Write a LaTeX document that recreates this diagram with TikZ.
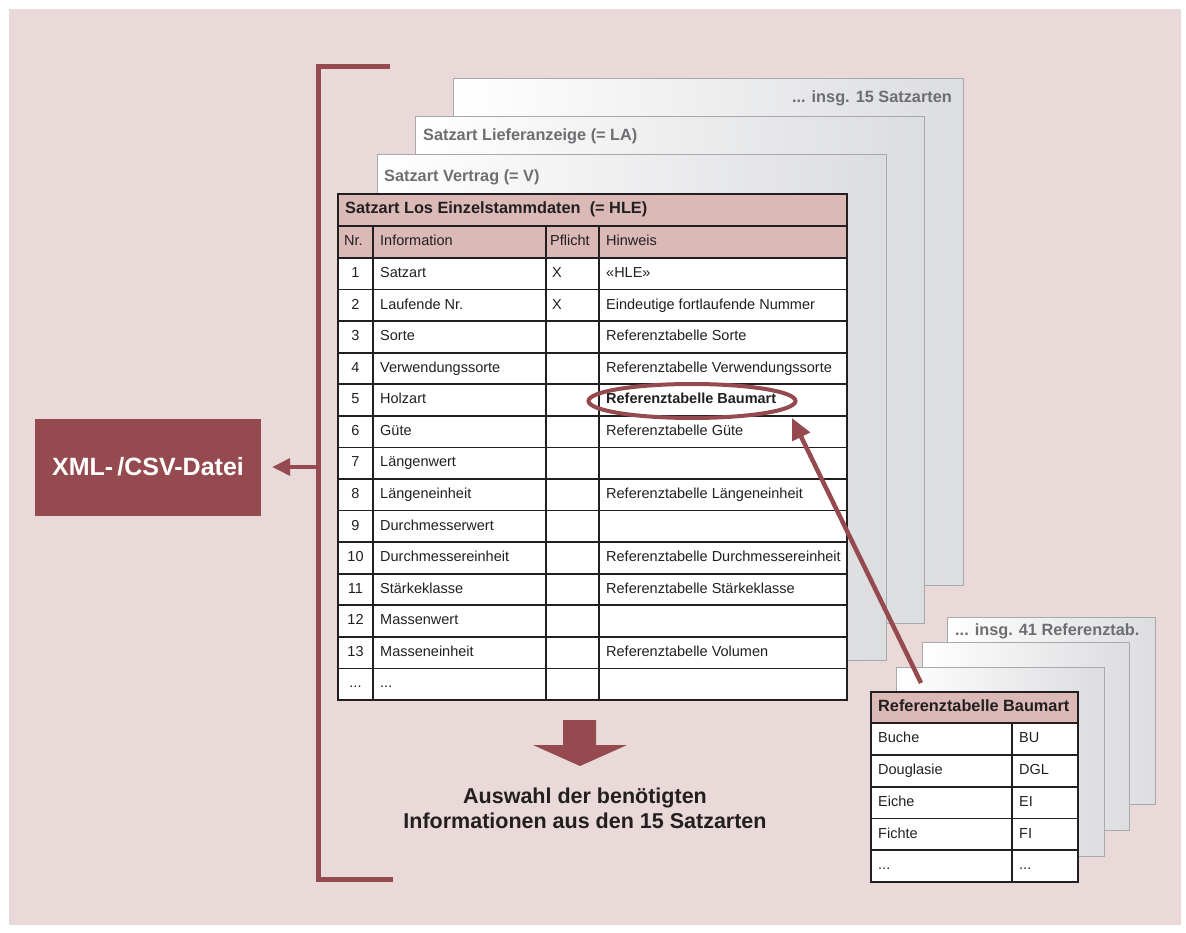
\documentclass[tikz,border=0pt]{standalone}
\usepackage{fontspec}
\setmainfont{Liberation Sans}
\usetikzlibrary{arrows.meta,shapes.geometric}
\definecolor{bgpink}{HTML}{E9D9D8}
\definecolor{dred}{HTML}{954A4F}
\definecolor{headfill}{HTML}{DAB9B6}
\definecolor{darktext}{HTML}{231F20}
\definecolor{greytext}{HTML}{6D6E71}
\definecolor{sheetline}{HTML}{A7A9AC}
\definecolor{sheetgrey}{HTML}{DCDDDF}
\newcommand\mydots{...}
\tikzset{
  sheetbox/.style={draw=sheetline, line width=1pt, left color=white, right color=sheetgrey},
  sheetlabel/.style={inner sep=0pt, text=greytext, font=\bfseries\fontsize{16.3}{19}\selectfont},
  cell/.style={inner sep=0pt, text=darktext, text height=10.5pt, text depth=3pt, font=\fontsize{14.5}{17}\selectfont},
  celltitle/.style={inner sep=0pt, text=darktext, text height=11.5pt, text depth=3.5pt, font=\bfseries\fontsize{16.3}{19}\selectfont},
  gridline/.style={draw=darktext, line width=1.8pt},
  bracket/.style={draw=dred, line width=5pt},
  redarrow/.style={draw=dred, line width=4pt, -{Triangle[length=18pt,width=17pt]}},
}
\begin{document}
\begin{tikzpicture}[x=1pt,y=-1pt]
\useasboundingbox (0,0) rectangle (1186,933);
\fill[white] (0,0) rectangle (1186,933);
\fill[bgpink] (9,9) rectangle (1181,925);

% bracket
\draw[bracket] (390,67) -- (318,67) -- (318,879) -- (393,879);

% XML box
\node[fill=dred, minimum width=226pt, minimum height=97pt, inner sep=0pt, text=white,
  font=\bfseries\fontsize{25}{30}\selectfont] (xml) at (148,467) {XML-\,/CSV-Datei};
\coordinate (brk) at (318,467);
\draw[redarrow, line width=3.5pt] (brk) -- ([xshift=11pt]xml.east);

% stacked sheets (Satzarten)
\path[sheetbox] (453,79) rectangle (963,585);
\node[sheetlabel, anchor=east] (s3) at (952,98.5) {\mydots{} insg. 15 Satzarten};
\path[sheetbox] (415,117) rectangle (924,623);
\node[sheetlabel, anchor=west] (s2) at (423,136) {Satzart Lieferanzeige (= LA)};
\path[sheetbox] (377,155) rectangle (886,660);
\node[sheetlabel, anchor=west] (s1) at (384,177) {Satzart Vertrag (= V)};

% main table
\fill[headfill] (338,194) rectangle (847,258);
\fill[white] (338,258) rectangle (847,700);
\node[celltitle, anchor=west] (ttl) at (345,210) {Satzart Los Einzelstammdaten\ \ (= HLE)};
\node[cell, anchor=west] (hnr) at (344,242) {Nr.};
\node[cell, anchor=west] (hinfo) at (380,242) {Information};
\node[cell, anchor=west] (hpf) at (550,242) {Pflicht};
\node[cell, anchor=west] (hhw) at (606,242) {Hinweis};
\foreach \nr/\info/\pf/\hw [count=\r] in {
  1/Satzart/X/«HLE»,
  2/Laufende Nr./X/Eindeutige fortlaufende Nummer,
  3/Sorte//Referenztabelle Sorte,
  4/Verwendungssorte//Referenztabelle Verwendungssorte,
  5/Holzart//\textbf{Referenztabelle Baumart},
  6/Güte//Referenztabelle Güte,
  7/Längenwert//,
  8/Längeneinheit//Referenztabelle Längeneinheit,
  9/Durchmesserwert//,
  10/Durchmessereinheit//Referenztabelle Durchmessereinheit,
  11/Stärkeklasse//Referenztabelle Stärkeklasse,
  12/Massenwert//,
  13/Masseneinheit//Referenztabelle Volumen,
  \mydots/\mydots//}{
  \pgfmathsetmacro\yc{258+(\r-0.5)*31.57}
  \node[cell] (nr\r) at (355.5,\yc) {\nr};
  \node[cell, anchor=west] (info\r) at (380,\yc) {\info};
  \node[cell, anchor=west] (pf\r) at (552,\yc) {\pf};
  \node[cell, anchor=west] (hw\r) at (606,\yc) {\hw};
  \draw[gridline] (338,{258+\r*31.57}) -- (847,{258+\r*31.57});
}
\draw[gridline] (338,226) -- (847,226);
\draw[gridline] (338,258) -- (847,258);
\foreach \xx in {373,546,599}{\draw[gridline] (\xx,226) -- (\xx,700);}
\draw[gridline] (338,194) rectangle (847,700);

% highlight oval
\node[draw=dred, line width=4pt, ellipse, minimum width=207pt, minimum height=34pt, inner sep=0pt] (oval) at (692,401) {};

% reference table stack
\path[sheetbox] (947,617) rectangle (1155,804);
\node[sheetlabel, anchor=west] (r3) at (955,631) {\mydots{} insg. 41 Referenztab.};
\path[sheetbox] (922,642) rectangle (1129,830);
\path[sheetbox] (896,667) rectangle (1104,856);

\fill[headfill] (871,692) rectangle (1078,723);
\fill[white] (871,723) rectangle (1078,882);
\node[celltitle, anchor=west] (rttl) at (878,707.5) {Referenztabelle Baumart};
\foreach \nm/\cd [count=\r] in {Buche/BU, Douglasie/DGL, Eiche/EI, Fichte/FI, \mydots/\mydots}{
  \pgfmathsetmacro\yc{723+(\r-0.5)*31.8}
  \node[cell, anchor=west] (rn\r) at (878,\yc) {\nm};
  \node[cell, anchor=west] (rc\r) at (1019,\yc) {\cd};
  \draw[gridline] (871,{723+\r*31.8}) -- (1078,{723+\r*31.8});
}
\draw[gridline] (871,723) -- (1078,723);
\draw[gridline] (1012,723) -- (1012,882);
\draw[gridline] (871,692) rectangle (1078,882);

% arrow from reference table to oval
\coordinate (arrstart) at (921,683);
\coordinate (arrtip) at (792,418);
\draw[redarrow, line width=4.5pt, -{Triangle[length=21pt,width=19pt]}] (arrstart) -- (arrtip);

% big down arrow
\fill[dred] (563,720) -- (596,720) -- (596,745) -- (627,745) -- (580,766) -- (533,745) -- (563,745) -- cycle;
\node[align=center, inner sep=0pt, text=darktext, font=\bfseries\fontsize{21.5}{25}\selectfont] (result) at (585,808)
  {Auswahl der benötigten\\Informationen aus den 15 Satzarten};
\end{tikzpicture}
\end{document}
